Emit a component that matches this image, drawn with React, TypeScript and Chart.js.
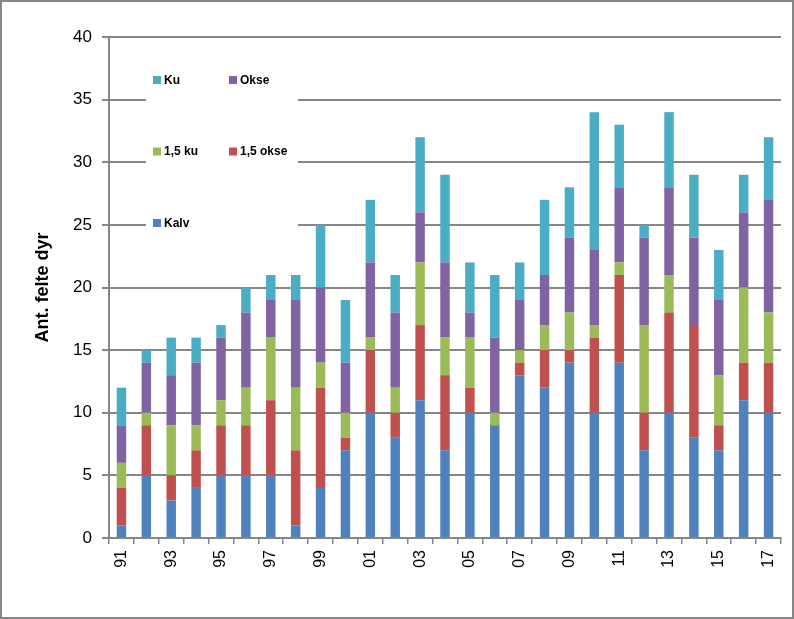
import React, { useEffect, useRef } from 'react';
import { Chart, registerables } from 'chart.js';

Chart.register(...registerables);

const years = ['91', '92', '93', '94', '95', '96', '97', '98', '99', '00', '01', '02', '03', '04', '05', '06', '07', '08', '09', '10', '11', '12', '13', '14', '15', '16', '17'];
const kalv = [1, 5, 3, 4, 5, 5, 5, 1, 4, 7, 10, 8, 11, 7, 10, 9, 13, 12, 14, 10, 14, 7, 10, 8, 7, 11, 10];
const okse15 = [3, 4, 2, 3, 4, 4, 6, 6, 8, 1, 5, 2, 6, 6, 2, 0, 1, 3, 1, 6, 7, 3, 8, 9, 2, 3, 4];
const ku15 = [2, 1, 4, 2, 2, 3, 5, 5, 2, 2, 1, 2, 5, 3, 4, 1, 1, 2, 3, 1, 1, 7, 3, 0, 4, 6, 4];
const okse = [3, 4, 4, 5, 5, 6, 3, 7, 6, 4, 6, 6, 4, 6, 2, 6, 4, 4, 6, 6, 6, 7, 7, 7, 6, 6, 9];
const ku = [3, 1, 3, 2, 1, 2, 2, 2, 5, 5, 5, 3, 6, 7, 4, 5, 3, 6, 4, 11, 5, 1, 6, 5, 4, 3, 5];

const seriesNames = ['Kalv', '1,5 okse', '1,5 ku', 'Okse', 'Ku'];
const seriesColors = ['#4F81BD', '#C0504D', '#9BBB59', '#8064A2', '#4BACC6'];
const yTitle = 'Ant. felte dyr';

const GRID = '#868686';
const FONT = '"Liberation Sans", Arial, sans-serif';

const framePlugin = {
  id: 'frame',
  beforeDraw(chart: any) {
    const { ctx, width, height } = chart;
    ctx.save();
    ctx.fillStyle = '#ffffff';
    ctx.fillRect(0, 0, width, height);
    ctx.strokeStyle = GRID;
    ctx.lineWidth = 2;
    ctx.strokeRect(1, 1, width - 2, height - 2);
    ctx.restore();
  },
};

// Legend laid out like the Excel original: reversed order in a 2-column grid inside the plot
const innerLegendPlugin = {
  id: 'innerLegend',
  beforeDatasetsDraw(chart: any) {
    const { ctx, chartArea } = chart;
    const ds = chart.data.datasets;
    const order = [4, 3, 2, 1, 0];
    const boxX = chartArea.left + 37;
    const boxY = chartArea.top + 21;
    ctx.save();
    ctx.fillStyle = '#ffffff';
    ctx.fillRect(boxX, boxY, 152, 183);
    ctx.font = 'bold 12px ' + FONT;
    ctx.textBaseline = 'middle';
    ctx.textAlign = 'left';
    order.forEach((di, k) => {
      const col = k % 2;
      const row = Math.floor(k / 2);
      const sx = chartArea.left + 44 + col * 76;
      const cy = chartArea.top + 43 + row * 71.5;
      ctx.fillStyle = ds[di].backgroundColor;
      ctx.fillRect(sx, cy - 4, 8, 8);
      ctx.fillStyle = '#000000';
      ctx.fillText(ds[di].label, sx + 11, cy + 0.5);
    });
    ctx.restore();
  },
};

export default function App() {
  const ref = useRef<HTMLCanvasElement | null>(null);

  useEffect(() => {
    document.body.style.margin = '0';
    const canvas = ref.current;
    if (!canvas) return;
    const series = [kalv, okse15, ku15, okse, ku];
    const chart = new Chart(canvas, {
      type: 'bar',
      data: {
        labels: years,
        datasets: series.map((d, i) => ({
          label: seriesNames[i],
          data: d,
          backgroundColor: seriesColors[i],
          borderWidth: 0,
          barPercentage: 0.38,
          categoryPercentage: 1,
        })),
      },
      options: {
        responsive: false,
        maintainAspectRatio: false,
        animation: false,
        devicePixelRatio: 1,
        layout: { padding: { top: 37, right: 13, left: 0, bottom: 0 } },
        plugins: {
          legend: { display: false },
          tooltip: { enabled: false },
          title: { display: false },
        },
        scales: {
          x: {
            stacked: true,
            offset: true,
            grid: {
              display: true,
              drawOnChartArea: false,
              drawTicks: true,
              tickLength: 6,
              offset: true,
              color: GRID,
              lineWidth: 1.5,
            },
            border: { display: true, color: GRID, width: 2 },
            ticks: {
              autoSkip: false,
              maxRotation: 90,
              minRotation: 90,
              padding: 6,
              color: '#000000',
              font: { family: FONT, size: 16 },
              callback: function (this: any, v: any, i: number) {
                return i % 2 === 0 ? this.getLabelForValue(v) : '';
              },
            },
            afterFit: (s: any) => {
              s.height = 81;
            },
          },
          y: {
            stacked: true,
            min: 0,
            max: 40,
            ticks: {
              stepSize: 5,
              padding: 10,
              color: '#000000',
              font: { family: FONT, size: 17 },
            },
            grid: { color: GRID, lineWidth: 2, tickLength: 7, drawTicks: true },
            border: { display: true, color: GRID, width: 2 },
            title: {
              display: true,
              text: yTitle,
              color: '#000000',
              font: { family: FONT, size: 18, weight: 'bold' },
              padding: { top: 32, bottom: 0 },
            },
            afterFit: (s: any) => {
              s.width = 109;
            },
          },
        },
      },
      plugins: [framePlugin, innerLegendPlugin],
    });
    return () => chart.destroy();
  }, []);

  return (
    <div style={{ width: 794, height: 619 }}>
      <canvas ref={ref} width={794} height={619} style={{ display: 'block', width: 794, height: 619 }} />
    </div>
  );
}
